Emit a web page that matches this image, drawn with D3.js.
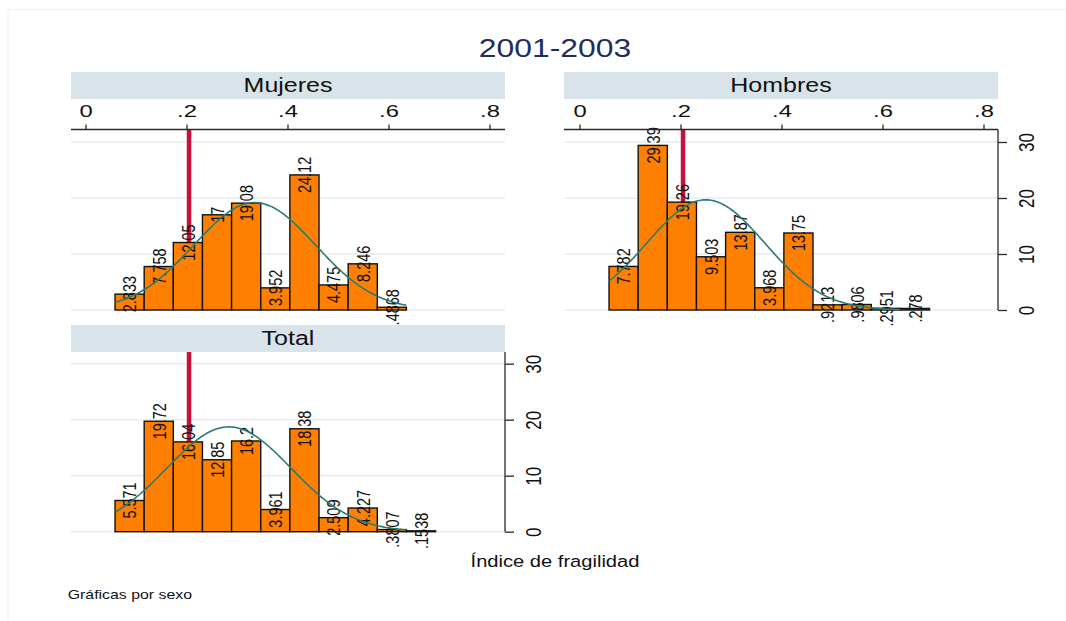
<!DOCTYPE html>
<html>
<head>
<meta charset="utf-8">
<script src="https://cdn.jsdelivr.net/npm/d3@7"></script>
<style>
  body { margin: 0; background: #fff; }
  svg { display: block; }
  text { font-family: "Liberation Sans", Arial, sans-serif; }
</style>
</head>
<body>
<script>
// ---- data -------------------------------------------------------------
const panelNames = ["Mujeres", "Hombres", "Total"];
const binStart = 0.0585;          // left edge of the first bin
const binWidth = 0.0577;          // common bin width
const mujeresPct = [2.833, 7.758, 12.05, 17, 19.08, 3.952, 24.12, 4.475, 8.246, 0.4868];
const hombresPct = [7.782, 29.39, 19.26, 9.503, 13.87, 3.968, 13.75, 0.9213, 0.9806, 0.2951, 0.278];
const totalPct   = [5.571, 19.72, 16.04, 12.85, 16.2, 3.961, 18.38, 2.509, 4.227, 0.3807, 0.1538];
// normal fit overlaid on each histogram (mean, sd)
const fitMean = [0.335, 0.250, 0.284];
const fitSd   = [0.120, 0.117, 0.123];
const fitBins = 10;               // the fitted curve spans this many bins
const refValue = 0.205;           // vertical reference line
const xTicks = [0, 0.2, 0.4, 0.6, 0.8];
const xTickLabels = ["0", ".2", ".4", ".6", ".8"];
const yTicks = [0, 10, 20, 30];
const yTickLabels = ["0", "10", "20", "30"];
const chartTitle = "2001-2003";
const xTitle = "Índice de fragilidad";
const noteText = "Gráficas por sexo";

const seriesByPanel = [mujeresPct, hombresPct, totalPct];

// ---- layout -----------------------------------------------------------
const W = 1066, H = 621;
const layout = [
  { left: 71,  right: 505, headTop: 72,  x0: 85.5,  base: 310,   topAxis: true,  rightAxis: false },
  { left: 564, right: 998, headTop: 72,  x0: 579.5, base: 310,   topAxis: true,  rightAxis: true  },
  { left: 71,  right: 505, headTop: 325, x0: 85.5,  base: 531.7, topAxis: false, rightAxis: true  }
];
const headH = 27;
const pxPerUnit = 505;     // horizontal pixels per unit of the index
const yPx30 = 168;         // vertical pixels from 0 to 30 %

const colors = {
  bar: "#ff8000", barEdge: "#111", head: "#d9e4ea", grid: "#e4ecf0",
  ref: "#c8103c", fit: "#2b7b73", axis: "#2a2a2a", title: "#1e2f5e", text: "#111"
};

const svg = d3.select("body").append("svg").attr("width", W).attr("height", H);

// faint frame at the top-left edges
svg.append("line").attr("x1", 8).attr("x2", W).attr("y1", 9.5).attr("y2", 9.5)
  .attr("stroke", "#f0f0f0").attr("stroke-width", 1);
svg.append("line").attr("x1", 8).attr("x2", 8).attr("y1", 9.5).attr("y2", H)
  .attr("stroke", "#f3f3f3").attr("stroke-width", 1);

// horizontally widened text, as the fonts appear in this graph
function wideText(parent, x, y, str, size, sx, anchor, opts = {}) {
  const t = parent.append("text")
    .attr("transform", `translate(${x},${y}) scale(${sx},1)` + (opts.rotate ? " rotate(-90)" : ""))
    .attr("text-anchor", anchor)
    .attr("font-size", size)
    .attr("fill", opts.fill || colors.text)
    .text(str);
  if (opts.dy) t.attr("dy", opts.dy);
  return t;
}

const fmtLabel = v => d3.format(".4~g")(v).replace(/^0\./, ".");

layout.forEach((L, p) => {
  const values = seriesByPanel[p];
  const g = svg.append("g");
  const plotTop = L.topAxis ? L.headTop + 57.5 : L.headTop + headH;

  const x = d3.scaleLinear().domain([0, 0.8]).range([L.x0, L.x0 + 0.8 * pxPerUnit]);
  const y = d3.scaleLinear().domain([0, 30]).range([L.base, L.base - yPx30]);

  // header band
  g.append("rect").attr("x", L.left).attr("y", L.headTop)
    .attr("width", L.right - L.left).attr("height", headH).attr("fill", colors.head);
  wideText(g, (L.left + L.right) / 2, L.headTop + 19.5, panelNames[p], 20, 1.25, "middle");

  // gridlines
  g.selectAll(".grid").data(yTicks).join("line")
    .attr("x1", L.left).attr("x2", L.right)
    .attr("y1", d => y(d)).attr("y2", d => y(d))
    .attr("stroke", colors.grid).attr("stroke-width", 1.5);

  // reference line (behind the bars)
  g.append("line").attr("x1", x(refValue)).attr("x2", x(refValue))
    .attr("y1", plotTop).attr("y2", L.base)
    .attr("stroke", colors.ref).attr("stroke-width", 4.5);

  // bars
  const bw = x(binWidth) - x(0);
  g.selectAll(".bar").data(values).join("rect")
    .attr("x", (d, i) => x(binStart + i * binWidth))
    .attr("width", bw)
    .attr("y", d => y(d))
    .attr("height", d => y(0) - y(d))
    .attr("fill", colors.bar).attr("stroke", colors.barEdge).attr("stroke-width", 1.4);

  // value labels, centred on the bar tops
  values.forEach((v, i) => {
    wideText(g, x(binStart + (i + 0.5) * binWidth), y(v), fmtLabel(v), 14.5, 1.3, "middle",
      { rotate: true, dy: "0.36em" });
  });

  // fitted normal density, on the percent scale
  const m = fitMean[p], s = fitSd[p];
  const x1 = binStart + fitBins * binWidth;
  const pts = d3.range(0, 201).map(k => {
    const xv = binStart + (x1 - binStart) * k / 200;
    const dens = Math.exp(-0.5 * ((xv - m) / s) ** 2) / (s * Math.sqrt(2 * Math.PI));
    return [xv, 100 * binWidth * dens];
  });
  g.append("path").datum(pts)
    .attr("d", d3.line().x(d => x(d[0])).y(d => y(d[1])))
    .attr("fill", "none").attr("stroke", colors.fit).attr("stroke-width", 1.6);

  // top x axis
  if (L.topAxis) {
    const ax = g.append("g").attr("transform", `translate(0,${plotTop})`)
      .call(d3.axisTop(x).tickValues(xTicks).tickFormat((d, i) => xTickLabels[i])
        .tickSize(5).tickSizeOuter(0));
    ax.select(".domain").remove();
    ax.selectAll(".tick line").attr("stroke", colors.axis).attr("stroke-width", 1.3);
    ax.selectAll(".tick text")
      .attr("y", null).attr("dy", null)
      .attr("transform", "translate(0,-12.8) scale(1.4,1)")
      .attr("font-size", 17).attr("font-family", null).attr("fill", colors.text);
    g.append("line").attr("x1", L.left).attr("x2", L.right)
      .attr("y1", plotTop).attr("y2", plotTop)
      .attr("stroke", colors.axis).attr("stroke-width", 1.3);
  }

  // right y axis
  if (L.rightAxis) {
    const ay = g.append("g").attr("transform", `translate(${L.right},0)`)
      .call(d3.axisRight(y).tickValues(yTicks).tickFormat((d, i) => yTickLabels[i])
        .tickSize(9).tickSizeOuter(0));
    ay.select(".domain").remove();
    ay.selectAll(".tick line").attr("stroke", colors.axis).attr("stroke-width", 1.3);
    ay.selectAll(".tick text")
      .attr("x", null).attr("dy", "0.36em")
      .attr("text-anchor", "middle")
      .attr("transform", "translate(28,0) scale(1.35,1) rotate(-90)")
      .attr("font-size", 17).attr("font-family", null).attr("fill", colors.text);
    g.append("line").attr("x1", L.right).attr("x2", L.right)
      .attr("y1", plotTop).attr("y2", L.base)
      .attr("stroke", colors.axis).attr("stroke-width", 1.3);
  }
});

// overall title, axis title and note
wideText(svg, 555, 56.7, chartTitle, 25.5, 1.25, "middle", { fill: colors.title });
wideText(svg, 555, 567, xTitle, 16.5, 1.22, "middle");
wideText(svg, 67.7, 599, noteText, 13, 1.22, "start");
</script>
</body>
</html>
